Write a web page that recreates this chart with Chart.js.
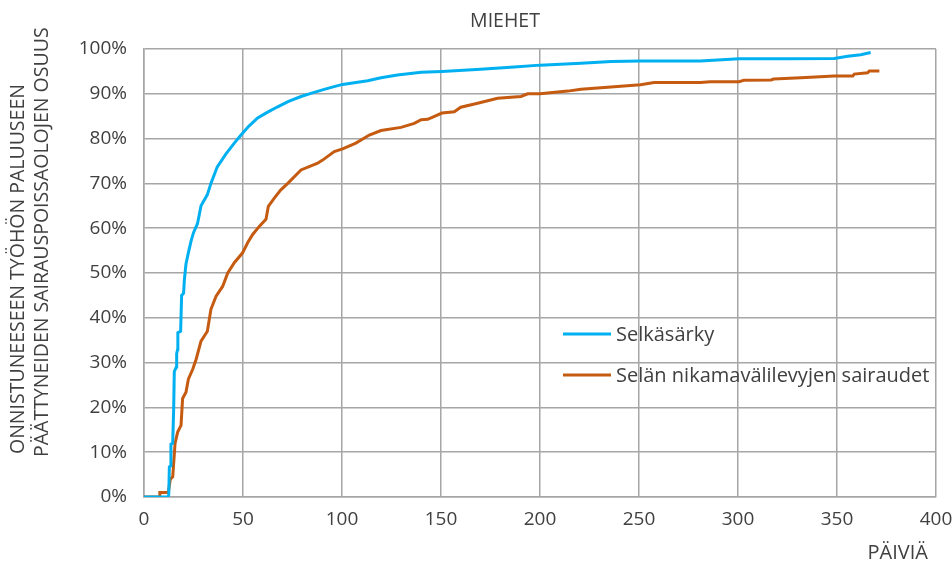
<!DOCTYPE html>
<html>
<head>
<meta charset="utf-8">
<script src="https://cdn.jsdelivr.net/npm/chart.js@4"></script>
<style>
  html, body { margin: 0; padding: 0; background: #fff; }
  #wrap { width: 952px; height: 565px; }
</style>
</head>
<body>
<div id="wrap"><canvas id="myChart" width="952" height="565"></canvas></div>
<script>
const chartTitle = "MIEHET";
const yTitle = ["ONNISTUNEESEEN TYÖHÖN PALUUSEEN", "PÄÄTTYNEIDEN SAIRAUSPOISSAOLOJEN OSUUS"];
const xTitle = "PÄIVIÄ";
const seriesNames = ["Selkäsärky", "Selän nikamavälilevyjen sairaudet"];

// Selkäsärky: day, % share
const blueDays = [0, 12, 12.5, 12.8, 13.5, 13.6, 14.5, 15, 15.3, 16.3, 16.5, 17, 17.1, 18.5, 19, 20, 20.4, 21.2, 22.4, 23.7, 25, 27, 28.8, 32, 33.8, 37, 41.4, 45.6, 49, 53, 57.4, 62, 67.5, 73, 79.3, 84.3, 91, 96, 100.3, 113, 119.7, 128, 140, 150.5, 170, 187, 200, 220.7, 236, 250.7, 281, 300.5, 325, 348.6, 355.4, 362, 367];
const blueVals = [0, 0, 0.5, 6.7, 7, 11.8, 12, 20, 28, 29, 32, 33, 36.7, 37, 45, 45.5, 48.5, 52, 54.5, 57, 59, 61, 65, 67.5, 70, 73.7, 76.6, 79, 80.8, 82.8, 84.6, 85.8, 87.1, 88.3, 89.4, 90.1, 91, 91.6, 92.1, 92.9, 93.6, 94.2, 94.8, 95, 95.5, 96, 96.4, 96.8, 97.2, 97.3, 97.3, 97.8, 97.8, 97.9, 98.4, 98.7, 99.2];

// Selän nikamavälilevyjen sairaudet: day, % share
const orangeDays = [0, 7.7, 8, 12.3, 13.3, 14.5, 15.7, 17, 18.7, 19.5, 21.2, 22.4, 24.6, 26.3, 28.8, 32, 33.8, 36.4, 39.7, 42.3, 45.6, 49.8, 52.4, 54.9, 58.2, 61.6, 62.8, 65.8, 69, 72.6, 79.3, 87.7, 90.2, 96.1, 100.3, 107, 113.8, 119.7, 129.8, 136.5, 140, 143.3, 150.5, 156.7, 160, 168.5, 178.6, 190.4, 193.8, 200, 214, 220.7, 237.5, 250.7, 257.7, 281, 286, 300.5, 303, 316.7, 318, 331.8, 348.6, 358, 358.7, 365.5, 366.3, 371.4];
const orangeVals = [0, 0, 1, 1, 4, 4.5, 12, 14.5, 16, 22, 23.4, 26.3, 28.5, 30.7, 34.8, 37, 41.9, 44.8, 47, 50, 52.3, 54.5, 56.8, 58.6, 60.4, 62, 64.9, 66.7, 68.5, 70, 73, 74.5, 75.2, 77.1, 77.7, 79, 80.8, 81.8, 82.5, 83.4, 84.2, 84.3, 85.7, 86, 87, 87.9, 89, 89.4, 90, 90, 90.6, 91, 91.6, 92, 92.5, 92.5, 92.7, 92.7, 93, 93.1, 93.3, 93.6, 94, 94, 94.4, 94.7, 95.1, 95.1];

const xTicks = [0, 50, 100, 150, 200, 250, 300, 350, 400];
const yTicks = [0, 10, 20, 30, 40, 50, 60, 70, 80, 90, 100];

const colors = ["#00B0F0", "#C55A11"];
const font = "'Open Sans', 'Noto Sans', sans-serif";
const textColor = "#404040";

function toPoints(xs, ys) {
	return xs.map((x, i) => ({ x: x, y: ys[i] }));
}

// title, axis titles and the legend inside the plot
const extraText = {
	id: 'extraText',
	afterDraw(chart) {
		const ctx = chart.ctx;
		ctx.save();
		ctx.fillStyle = textColor;
		ctx.font = "19.5px " + font;
		ctx.textAlign = 'center';
		ctx.textBaseline = 'middle';
		ctx.fillText(chartTitle, 505, 21);

		ctx.font = "20px " + font;
		ctx.textAlign = 'right';
		ctx.fillText(xTitle, 928, 553);

		ctx.save();
		ctx.rotate(-Math.PI / 2);
		ctx.font = "19.5px " + font;
		ctx.textAlign = 'left';
		ctx.fillText(yTitle[0], -454, 18);
		ctx.fillText(yTitle[1], -457, 42);
		ctx.restore();

		ctx.font = "20px " + font;
		ctx.textAlign = 'left';
		const legendY = [334, 375];
		chart.data.datasets.forEach((ds, i) => {
			ctx.strokeStyle = ds.borderColor;
			ctx.lineWidth = 3;
			ctx.beginPath();
			ctx.moveTo(563, legendY[i]);
			ctx.lineTo(611, legendY[i]);
			ctx.stroke();
			ctx.fillText(ds.label, 616, legendY[i] + 1);
		});
		ctx.restore();
	}
};

const ctx = document.getElementById('myChart').getContext('2d');
new Chart(ctx, {
	type: 'line',
	data: {
		datasets: [{
			label: seriesNames[0],
			data: toPoints(blueDays, blueVals),
			borderColor: colors[0],
			borderWidth: 3,
			pointRadius: 0,
			tension: 0,
			fill: false,
		}, {
			label: seriesNames[1],
			data: toPoints(orangeDays, orangeVals),
			borderColor: colors[1],
			borderWidth: 3,
			pointRadius: 0,
			tension: 0,
			fill: false,
		}]
	},
	options: {
		responsive: false,
		animation: false,
		layout: { padding: { left: 0, right: 16, top: 49, bottom: 0 } },
		plugins: {
			legend: { display: false },
			tooltip: { enabled: false },
			title: { display: false },
		},
		scales: {
			x: {
				type: 'linear',
				min: 0,
				max: 400,
				afterBuildTicks: (axis) => { axis.ticks = xTicks.map(v => ({ value: v })); },
				afterFit: (axis) => { axis.height = 68; axis.paddingLeft = 0; axis.paddingRight = 0; },
				grid: { color: '#a6a6a6', lineWidth: 1.5, drawTicks: false },
				border: { color: '#a6a6a6', width: 1.5 },
				ticks: { color: textColor, font: { family: font, size: 19 }, padding: 11, maxRotation: 0 },
			},
			y: {
				min: 0,
				max: 100,
				afterBuildTicks: (axis) => { axis.ticks = yTicks.map(v => ({ value: v })); },
				afterFit: (axis) => { axis.width = 144; axis.paddingTop = 0; axis.paddingBottom = 0; },
				grid: { color: '#a6a6a6', lineWidth: 1.5, drawTicks: false },
				border: { color: '#a6a6a6', width: 1.5 },
				ticks: { color: textColor, font: { family: font, size: 19 }, padding: 17, callback: v => v + '%' },
			}
		}
	},
	plugins: [extraText]
});
</script>
</body>
</html>
